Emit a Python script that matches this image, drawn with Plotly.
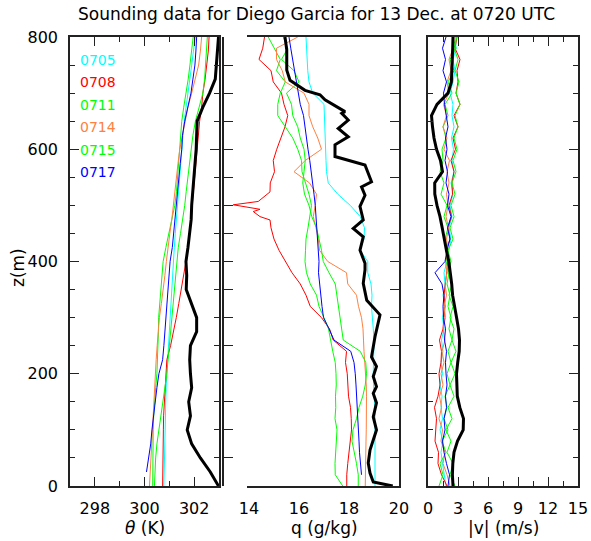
import plotly.graph_objects as go

# sounding times and colours
times = ['0705', '0708', '0711', '0714', '0715', '0717']
colors = ['#00FFFF', '#FF0000', '#00FF00', '#FF8040', '#00FF00', '#0000FF']

# ---- potential temperature (K), 25 m levels ----
z_theta = list(range(0, 801, 25))
theta_0705 = [300.78, 300.79, 300.8, 300.8, 300.81, 300.83, 300.85, 300.87, 300.9, 300.93, 300.97,
              301.0, 301.03, 301.07, 301.1, 301.13, 301.16, 301.2, 301.24, 301.28, 301.32, 301.36,
              301.4, 301.44, 301.5, 301.55, 301.6, 301.68, 301.75, 301.82, 301.9, 301.97, 302.05]
theta_0708 = [300.73, 300.73, 300.73, 300.74, 300.76, 300.77, 300.8, 300.83, 300.86, 300.9, 301.05,
              301.17, 301.28, 301.38, 301.48, 301.6, 301.67, 301.75, 301.83, 301.88, 301.92, 301.97,
              302.0, 302.05, 302.1, 302.15, 302.22, 302.3, 302.35, 302.44, 302.52, 302.57, 302.6]
theta_0711 = [300.33, 300.33, 300.33, 300.34, 300.35, 300.37, 300.4, 300.45, 300.5, 300.53, 300.55,
              300.56, 300.57, 300.62, 300.67, 300.71, 300.75, 300.86, 300.97, 301.1, 301.22, 301.29,
              301.33, 301.37, 301.41, 301.45, 301.5, 301.58, 301.68, 301.76, 301.83, 301.9, 301.96]
theta_0714 = [300.2, 300.23, 300.26, 300.29, 300.32, 300.35, 300.37, 300.39, 300.43, 300.47, 300.51,
              300.55, 300.6, 300.68, 300.76, 300.82, 300.88, 300.94, 301.02, 301.1, 301.17, 301.23,
              301.28, 301.35, 301.42, 301.52, 301.62, 301.75, 301.9, 302.05, 302.18, 302.25, 302.3]
theta_0715 = [300.4, 300.42, 300.45, 300.5, 300.58, 300.67, 300.75, 300.84, 300.9, 300.95, 301.0,
              301.06, 301.1, 301.14, 301.18, 301.23, 301.28, 301.36, 301.45, 301.55, 301.62, 301.68,
              301.74, 301.8, 301.86, 301.95, 302.05, 302.2, 302.35, 302.42, 302.46, 302.5, 302.53]
theta_0717 = [None, 300.08, 300.18, 300.25, 300.3, 300.36, 300.44, 300.5, 300.58, 300.73, 300.78,
              300.82, 300.87, 300.92, 300.96, 301.0, 301.03, 301.12, 301.17, 301.22, 301.27, 301.31,
              301.36, 301.44, 301.5, 301.53, 301.62, 301.75, 301.87, 301.95, 302.03, 302.07, 302.1]
theta_0720 = [302.98, 302.65, 302.25, 301.9, 301.72, 301.85, 301.78, 301.9, 301.85, 301.82, 301.85,
              302.1, 302.1, 301.88, 301.68, 301.7, 301.67, 301.75, 301.83, 301.88, 301.9, 301.95,
              302.0, 302.04, 302.08, 302.1, 302.12, 302.35, 302.62, 302.85, 302.9, 302.92, 302.98]

# ---- specific humidity (g/kg), 20 m levels ----
z_q = list(range(0, 801, 20))
q_0705 = [19.04, 19.04, 19.05, 19.04, 19.05, 19.04, 19.05, 19.04, 19.0, 18.98, 18.97, 18.98, 19.0, 19.0,
          18.97, 18.93, 18.9, 18.92, 18.88, 18.75, 18.75, 18.44, 18.6, 18.62, 18.45, 18.05, 17.55, 17.17,
          17.1, 17.08, 17.06, 17.05, 17.04, 17.02, 17.0, 16.55, 16.4, 16.35, 16.33, 16.3, 16.28]
z_q_0708 = [0, 20, 40, 60, 80, 100, 120, 140, 160, 180, 200, 220, 240, 260, 280, 300, 320, 340, 360,
            380, 400, 420, 440, 460, 474, 480, 489, 493, 501, 507, 524, 540, 560, 580, 600, 620, 640,
            660, 680, 700, 720, 740, 760, 780, 800]
q_0708 = [17.91, 17.91, 17.95, 18.0, 18.05, 18.1, 18.09, 18.06, 17.98, 17.95, 17.93, 17.86, 17.9, 17.37,
          17.22, 16.9, 16.45, 16.28, 16.05, 15.72, 15.45, 15.2, 15.0, 14.88, 14.84, 14.44, 14.17, 14.44,
          13.37, 14.37, 14.84, 14.85, 15.02, 14.97, 15.11, 15.27, 15.44, 15.55, 15.4, 15.3, 14.97, 14.88,
          14.4, 14.55, 14.62]
q_0711 = [17.75, 17.45, 17.44, 17.46, 17.5, 17.52, 17.44, 17.47, 17.46, 17.49, 17.48, 17.45, 17.35, 17.26,
          17.18, 17.0, 16.8, 16.7, 16.45, 16.3, 16.24, 16.26, 16.28, 16.36, 16.44, 16.5, 16.4, 16.25, 16.12,
          16.1, 15.95, 15.75, 15.45, 15.15, 15.15, 15.25, 15.45, 15.1, 15.25, 15.0, 14.77]
q_0714 = [18.65, 18.65, 18.66, 18.67, 18.68, 18.69, 18.7, 18.71, 18.7, 18.69, 18.67, 18.64, 18.6, 18.58,
          18.56, 18.5, 18.38, 18.3, 17.95, 17.9, 17.15, 16.82, 16.77, 16.68, 16.57, 16.65, 16.7, 16.42,
          15.8, 16.25, 16.9, 16.75, 16.55, 16.4, 16.4, 16.2, 15.45, 15.33, 15.1, 15.1, 15.95]
q_0715 = [18.37, 18.37, 18.3, 18.2, 18.12, 18.16, 18.3, 18.4, 18.55, 18.65, 18.7, 18.67, 18.45, 17.77,
          17.7, 17.63, 17.58, 17.52, 17.45, 17.2, 16.97, 16.9, 16.8, 16.7, 16.51, 16.4, 16.22, 16.15,
          16.2, 16.25, 16.2, 16.05, 15.95, 15.75, 15.7, 15.5, 16.0, 15.8, 15.3, 15.55, 15.37]
q_0717 = [None, 18.5, 18.45, 18.42, 18.4, 18.37, 18.35, 18.34, 18.3, 18.28, 18.25, 18.2, 18.07, 17.4,
          17.2, 16.98, 16.92, 16.87, 16.83, 16.78, 16.8, 16.77, 16.74, 16.72, 16.7, 16.65, 16.6, 16.55,
          16.5, 16.43, 16.36, 16.3, 16.24, 16.18, 16.05, 15.97, 15.88, 15.8, 15.75, 15.67, 15.6]
z_q_0720 = [0, 7, 23, 41, 64, 100, 123, 148, 165, 177, 195, 213, 230, 266, 305, 331, 361, 385, 397, 420,
            444, 459, 474, 498, 518, 533, 542, 563, 572, 587, 608, 622, 637, 652, 664, 667, 688, 697,
            705, 723, 741, 777, 800]
q_0720 = [19.75, 18.97, 18.84, 18.77, 18.84, 19.1, 18.97, 19.1, 18.97, 19.1, 18.97, 19.1, 18.9, 19.04,
          19.24, 18.71, 18.57, 18.64, 18.64, 18.44, 18.57, 18.17, 18.57, 18.44, 18.64, 18.5, 18.9, 18.7,
          18.64, 17.44, 17.44, 17.97, 17.57, 17.97, 17.71, 17.84, 17.04, 16.84, 16.24, 15.64, 15.51,
          15.51, 15.44]

# ---- wind speed (m/s), 20 m levels ----
z_v = list(range(0, 801, 20))
v_0705 = [1.8, 1.6, 1.45, 1.3, 1.5, 1.2, 1.45, 1.3, 1.4, 1.2, 1.45, 1.3, 1.5, 1.35, 1.6, 1.45, 1.7, 1.5,
          1.7, 1.6, 1.9, 2.1, 2.3, 2.1, 2.4, 2.2, 2.5, 2.3, 2.6, 2.4, 2.55, 2.35, 2.6, 2.4, 2.5, 2.2, 2.5,
          2.7, 2.5, 2.8, 2.75]
v_0708 = [1.9, 1.35, 1.0, 1.05, 0.7, 0.8, 0.85, 0.65, 1.0, 1.2, 1.1, 1.3, 1.35, 1.15, 1.5, 1.6, 1.7, 1.6,
          1.75, 1.9, 2.0, 1.8, 2.2, 2.0, 2.35, 2.1, 2.45, 2.4, 2.6, 2.3, 2.75, 2.5, 3.0, 2.6, 3.2, 2.8, 3.0,
          2.9, 3.2, 2.7, 2.9]
v_0711 = [1.1, 1.5, 1.2, 1.8, 1.4, 2.0, 1.6, 1.9, 1.7, 2.2, 1.9, 2.3, 2.0, 2.4, 2.1, 2.3, 2.0, 2.2, 1.9,
          2.1, 1.8, 2.0, 1.7, 2.0, 1.6, 1.9, 1.3, 1.6, 1.2, 1.5, 1.4, 1.8, 1.5, 2.0, 1.7, 2.4, 2.0, 2.6,
          2.2, 2.8, 2.5]
v_0714 = [2.2, 1.9, 1.5, 1.7, 1.3, 1.45, 1.1, 1.35, 1.15, 1.5, 1.3, 1.6, 1.4, 1.7, 1.5, 1.75, 1.6, 1.85,
          1.7, 1.9, 1.75, 2.0, 1.85, 2.05, 1.8, 2.0, 1.85, 2.1, 1.9, 2.15, 1.6, 1.9, 1.5, 1.85, 1.55, 2.1,
          1.9, 2.3, 2.1, 2.5, 2.6]
v_0715 = [2.7, 2.2, 2.5, 1.9, 2.3, 1.8, 2.4, 2.0, 2.6, 2.2, 2.7, 2.3, 2.8, 2.4, 2.6, 2.2, 2.5, 2.1, 2.4,
          2.0, 2.3, 2.0, 2.5, 2.2, 2.6, 2.3, 2.7, 2.4, 2.8, 2.5, 2.9, 2.6, 3.0, 2.7, 3.2, 2.8, 3.1, 2.7,
          3.0, 2.6, 2.9]
v_0717 = [2.0, 2.15, 1.85, 1.6, 1.45, 1.7, 1.6, 1.85, 1.75, 1.9, 1.8, 1.75, 1.85, 1.65, 1.75, 1.55, 1.5,
          1.6, 1.4, 0.7, 1.7, 1.9, 2.2, 1.95, 2.3, 1.95, 2.1, 1.8, 1.95, 1.7, 1.9, 1.75, 2.0, 1.8, 1.65,
          1.55, 1.85, 1.5, 1.75, 1.45, 1.8]
v_0720 = [2.5, 2.44, 2.48, 2.6, 2.95, 3.52, 3.55, 3.18, 2.93, 2.86, 2.85, 2.97, 3.12, 3.15, 3.05, 2.86,
          2.63, 2.46, 2.37, 2.25, 2.08, 1.84, 1.6, 1.42, 1.2, 0.9, 0.68, 0.67, 1.45, 1.25, 0.85, 0.6, 0.45,
          0.35, 0.9, 2.0, 2.34, 2.4, 2.44, 2.47, 2.5]

W, H = 591, 541
X0, X1, Y0, Y1 = 70, 578, 37, 486      # plot area in pixels
PW, PH = X1 - X0, Y1 - Y0
FONT = 'DejaVu Sans'


def fx(px):
    return (px - X0) / PW


def fy(py):
    return (Y1 - py) / PH


fig = go.Figure()

thin_theta = [theta_0705, theta_0708, theta_0711, theta_0714, theta_0715, theta_0717]
thin_q = [(z_q, q_0705), (z_q_0708, q_0708), (z_q, q_0711), (z_q, q_0714), (z_q, q_0715), (z_q, q_0717)]
thin_v = [v_0705, v_0708, v_0711, v_0714, v_0715, v_0717]

# empty trace so the q frame subplot gets drawn
fig.add_trace(go.Scatter(x=[], y=[], xaxis='x2', yaxis='y2'))

for th, (zq, q), v, c in zip(thin_theta, thin_q, thin_v, colors):
    fig.add_trace(go.Scatter(x=th, y=z_theta, mode='lines', line=dict(color=c, width=1),
                             xaxis='x', yaxis='y'))
    fig.add_trace(go.Scatter(x=q, y=zq, mode='lines', line=dict(color=c, width=1),
                             xaxis='x4', yaxis='y2'))
    fig.add_trace(go.Scatter(x=v, y=z_v, mode='lines', line=dict(color=c, width=1),
                             xaxis='x3', yaxis='y3'))

fig.add_trace(go.Scatter(x=theta_0720, y=z_theta, mode='lines', line=dict(color='black', width=3),
                         xaxis='x', yaxis='y'))
fig.add_trace(go.Scatter(x=q_0720, y=z_q_0720, mode='lines', line=dict(color='black', width=3),
                         xaxis='x4', yaxis='y2'))
fig.add_trace(go.Scatter(x=v_0720, y=z_v, mode='lines', line=dict(color='black', width=3),
                         xaxis='x3', yaxis='y3'))
fig.update_traces(showlegend=False, hoverinfo='skip')

frame = dict(showline=True, linecolor='#222222', linewidth=1.5, mirror='allticks', ticks='inside',
             ticklen=9, tickwidth=1.2, tickcolor='#222222', showgrid=False, zeroline=False,
             fixedrange=True, ticklabelstandoff=7, automargin=False,
             tickfont=dict(family=FONT, size=16, color='black'))


def minor(step):
    return dict(dtick=step, ticks='inside', ticklen=5, tickwidth=1.2, tickcolor='#222222', showgrid=False)


fig.update_layout(
    width=W, height=H,
    margin=dict(l=X0, r=W - X1, t=Y0, b=H - Y1, pad=0, autoexpand=False),
    paper_bgcolor='white', plot_bgcolor='white',
    showlegend=False,
    xaxis=dict(frame, domain=[fx(70), fx(219)], range=[297, 303], tick0=298, dtick=2,
               minor=minor(1), anchor='y'),
    xaxis2=dict(frame, domain=[fx(249), fx(399)], range=[14, 20], tick0=14, dtick=2,
                minor=minor(0.5), anchor='y2'),
    xaxis3=dict(frame, domain=[fx(428), fx(578)], range=[0, 15], tick0=0, dtick=3,
                minor=minor(1.5), anchor='y3'),
    # hidden axis carrying the q profiles, a little wider so the 0708 spike can pass the frame
    xaxis4=dict(domain=[fx(224), fx(399)], range=[13, 20], visible=False, anchor='y2',
                fixedrange=True, automargin=False),
    yaxis=dict(frame, domain=[0, 1], range=[0, 800], tick0=0, dtick=200, minor=minor(50),
               anchor='x'),
    yaxis2=dict(frame, domain=[0, 1], range=[0, 800], dtick=200, minor=minor(50), anchor='x2',
                showticklabels=False),
    yaxis3=dict(frame, domain=[0, 1], range=[0, 800], dtick=200, minor=minor(50), anchor='x3',
                showticklabels=False),
)

ann = [
    dict(text='Sounding data for Diego Garcia for 13 Dec. at 0720 UTC', x=fx(316), y=fy(14),
         font=dict(family=FONT, size=17, color='black')),
    dict(text='<i>θ</i> (K)', x=fx(145), y=fy(528), font=dict(family=FONT, size=17, color='black')),
    dict(text='q (g/kg)', x=fx(324), y=fy(528), font=dict(family=FONT, size=17, color='black')),
    dict(text='|v| (m/s)', x=fx(503), y=fy(528), font=dict(family=FONT, size=17, color='black')),
    dict(text='z(m)', x=fx(18), y=fy(268), textangle=-90,
         font=dict(family=FONT, size=17, color='black')),
]
for i, (t, c) in enumerate(zip(times, colors)):
    ann.append(dict(text=t, x=fx(78), y=fy(60 + 22.4 * i), xanchor='left',
                    font=dict(family=FONT, size=14, color=c)))
for a in ann:
    a.setdefault('xanchor', 'center')
    fig.add_annotation(xref='paper', yref='paper', showarrow=False, yanchor='middle', **a)

# drop the default page margin so the figure sits at the window's top-left corner
fig.write_html('out.html', config={'displayModeBar': False},
               post_script="document.body.style.margin='0';document.body.style.overflow='hidden';")
